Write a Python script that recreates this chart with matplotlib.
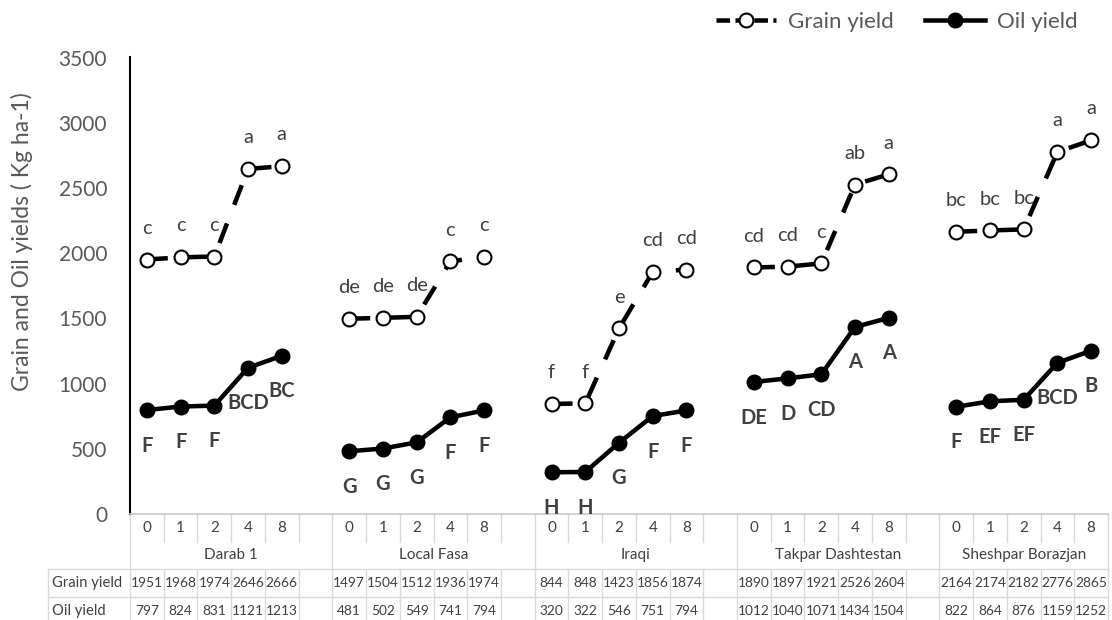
import matplotlib
matplotlib.use("Agg")
import matplotlib.pyplot as plt
import matplotlib.transforms as mtransforms
from matplotlib.lines import Line2D

plt.rcParams['font.family'] = ['Lato', 'DejaVu Sans']

groups = ["Darab 1", "Local Fasa", "Iraqi", "Takpar Dashtestan", "Sheshpar Borazjan"]
levels = ["0", "1", "2", "4", "8"]

grain = [
    [1951, 1968, 1974, 2646, 2666],
    [1497, 1504, 1512, 1936, 1974],
    [844, 848, 1423, 1856, 1874],
    [1890, 1897, 1921, 2526, 2604],
    [2164, 2174, 2182, 2776, 2865],
]
oil = [
    [797, 824, 831, 1121, 1213],
    [481, 502, 549, 741, 794],
    [320, 322, 546, 751, 794],
    [1012, 1040, 1071, 1434, 1504],
    [822, 864, 876, 1159, 1252],
]
grain_letters = [
    ["c", "c", "c", "a", "a"],
    ["de", "de", "de", "c", "c"],
    ["f", "f", "e", "cd", "cd"],
    ["cd", "cd", "c", "ab", "a"],
    ["bc", "bc", "bc", "a", "a"],
]
oil_letters = [
    ["F", "F", "F", "BCD", "BC"],
    ["G", "G", "G", "F", "F"],
    ["H", "H", "G", "F", "F"],
    ["DE", "D", "CD", "A", "A"],
    ["F", "EF", "EF", "BCD", "B"],
]

W, H = 1112, 620
fig = plt.figure(figsize=(W / 100, H / 100), dpi=100)
ax_top, ax_bot, ax_left, ax_right = 57.5, 514, 130, 1108
ax = fig.add_axes([ax_left / W, (H - ax_bot) / H, (ax_right - ax_left) / W, (ax_bot - ax_top) / H])

step = len(levels) + 1
n_cat = len(groups) * step - 1
ax.set_xlim(-0.5, n_cat - 0.5)
ax.set_ylim(0, 3500)
ax.set_yticks(range(0, 3501, 500))
ax.set_xticks([])
ax.tick_params(axis='y', length=0, pad=16.5, labelsize=15, labelcolor='#595959')
for s in ['top', 'right']:
    ax.spines[s].set_visible(False)
ax.spines['left'].set_color('black')
ax.spines['left'].set_linewidth(1.5)
ax.spines['bottom'].set_color('#c8c8c8')
ax.spines['bottom'].set_linewidth(1.2)

ax.set_ylabel("Grain and Oil yields ( Kg ha-1)", fontsize=16.5, color='#595959')
ax.yaxis.set_label_coords((33 - ax_left) / (ax_right - ax_left), (ax_bot - 241.5) / (ax_bot - ax_top))

dash = (0, (4.65, 4.43))
for g in range(len(groups)):
    xs = [g * step + k for k in range(len(levels))]
    ax.plot(xs, grain[g], color='black', lw=3.25, ls=dash, marker='o', ms=10,
            mfc='white', mec='black', mew=1.5, zorder=3)
    ax.plot(xs, oil[g], color='black', lw=3.25, marker='o', ms=10.5,
            mfc='black', mec='black', zorder=3)
    for k in range(len(levels)):
        ax.annotate(grain_letters[g][k], (xs[k], grain[g][k]), xytext=(0, 18.6),
                    textcoords='offset points', ha='center', va='baseline',
                    fontsize=14.5, color='#404040')
        ax.annotate(oil_letters[g][k], (xs[k], oil[g][k]), xytext=(0, -29.9),
                    textcoords='offset points', ha='center', va='baseline',
                    fontsize=14.5, fontweight='bold', color='#404040')

# data table below the axes
tr = mtransforms.blended_transform_factory(ax.transData, ax.transAxes)
tra = ax.transAxes


def fy(py):
    return (ax_bot - py) / (ax_bot - ax_top)


def fx(px):
    return (px - ax_left) / (ax_right - ax_left)


grid_c = '#d9d9d9'
txt_c = '#404040'
y_r1, y_r1b, y_r2b, y_r3b, y_end = fy(514), fy(541.7), fy(569.3), fy(597.3), fy(621)

for b in range(n_cat + 1):
    xb = b - 0.5
    is_group = (b % step == 0) or b == n_cat
    y_low = y_r2b if is_group else y_r1b
    ax.add_line(Line2D([xb, xb], [y_r1, y_low], transform=tr, color=grid_c, lw=1, clip_on=False))
    ax.add_line(Line2D([xb, xb], [y_r2b, y_end], transform=tr, color=grid_c, lw=1, clip_on=False))

for yy in [y_r2b, y_r3b]:
    ax.add_line(Line2D([fx(48), 1], [yy, yy], transform=tra, color=grid_c, lw=1, clip_on=False))
ax.add_line(Line2D([fx(48), fx(48)], [y_r2b, y_end], transform=tra, color=grid_c, lw=1, clip_on=False))

ax.text(fx(52.5), fy(583.3), "Grain yield", transform=tra, ha='left', va='center',
        fontsize=10.6, color=txt_c)
ax.text(fx(52.5), fy(610.7), "Oil yield", transform=tra, ha='left', va='center',
        fontsize=10.6, color=txt_c)

for g, name in enumerate(groups):
    start = g * step - 0.5
    end = min(start + step, n_cat - 0.5)
    ax.text((start + end) / 2, fy(555), name, transform=tr, ha='center', va='center',
            fontsize=11, color=txt_c)
    for k, lv in enumerate(levels):
        x = g * step + k
        ax.text(x, fy(528.3), lv, transform=tr, ha='center', va='center', fontsize=11, color=txt_c)
        ax.text(x, fy(583.3), str(grain[g][k]), transform=tr, ha='center', va='center',
                fontsize=9.9, color=txt_c)
        ax.text(x, fy(610.7), str(oil[g][k]), transform=tr, ha='center', va='center',
                fontsize=9.9, color=txt_c)

handles = [
    Line2D([], [], color='black', lw=3.25, ls=(0, (3.0, 1.2)), marker='o', ms=10,
           mfc='white', mec='black', mew=1.5),
    Line2D([], [], color='black', lw=3.25, marker='o', ms=10.5, mfc='black'),
]
fig.legend(handles, ["Grain yield", "Oil yield"], loc='center right',
           bbox_to_anchor=(1078 / W, 1 - 21.7 / H), ncol=2, frameon=False,
           fontsize=16, labelcolor='#595959', handlelength=2.7,
           handletextpad=0.55, columnspacing=1.4, borderaxespad=0, borderpad=0)

fig.savefig("out.png", dpi=100)
